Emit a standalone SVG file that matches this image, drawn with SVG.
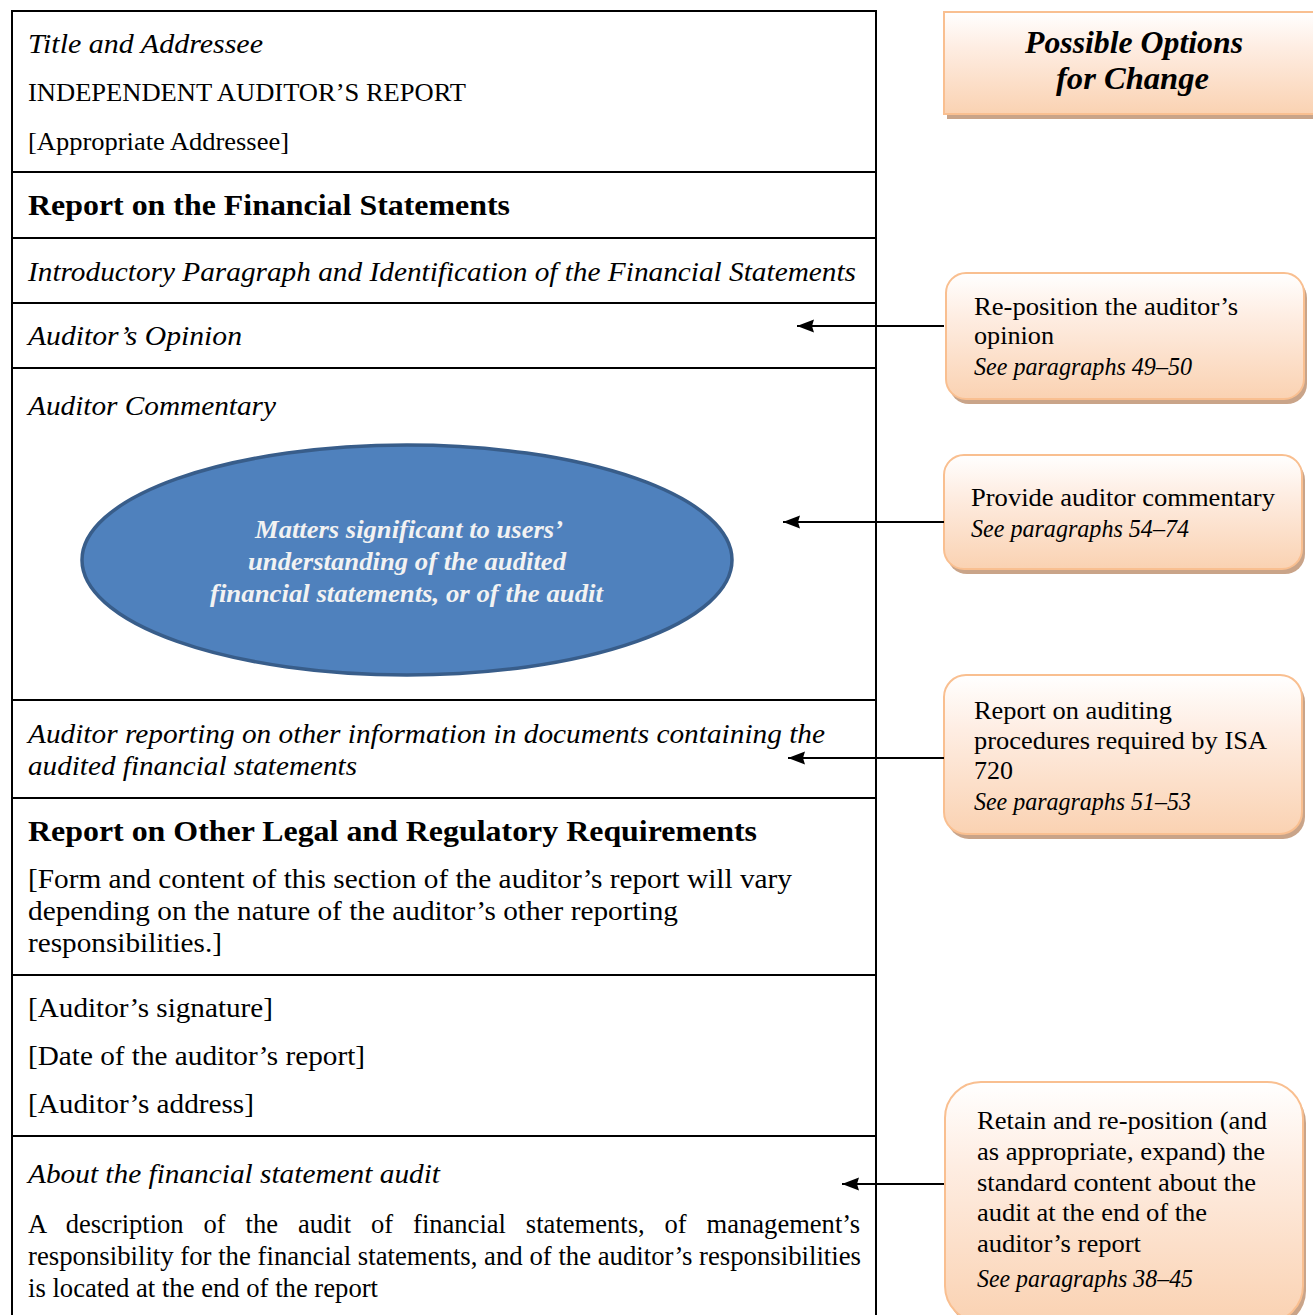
<svg xmlns="http://www.w3.org/2000/svg" width="1313" height="1315" viewBox="0 0 1313 1315">
<defs>
<linearGradient id="peach" x1="0" y1="0" x2="0" y2="1">
<stop offset="0" stop-color="#FFFFFF"/>
<stop offset="0.35" stop-color="#FEEDE2"/>
<stop offset="1" stop-color="#FAD2B2"/>
</linearGradient>
<marker id="arrow" markerUnits="userSpaceOnUse" markerWidth="18" markerHeight="14" viewBox="0 0 18 14" refX="17" refY="7" orient="auto">
<path d="M0,0.5 L17,7 L0,13.5 L2,7 z" fill="#000"/>
</marker>
<style>
.t{font-family:"Liberation Serif","Times New Roman",serif;fill:#000;}
.i{font-style:italic;}
.b{font-weight:bold;}
.m{font-size:28px;}
.s{font-size:26px;}
.h{font-size:30px;font-weight:bold;}
.c{font-size:26px;}
.frame{fill:none;stroke:#000;stroke-width:2;}
.div{stroke:#000;stroke-width:2;}
.box{fill:url(#peach);stroke:#F9BF90;stroke-width:2;}
.shadow{fill:#C9A489;}
.conn{stroke:#000;stroke-width:2;fill:none;marker-end:url(#arrow);}
.ell{font-family:"Liberation Serif","Times New Roman",serif;font-style:italic;font-weight:bold;font-size:26px;fill:#F2F2F2;}
</style>
</defs>
<rect width="1313" height="1315" fill="#FFFFFF"/>

<g id="report-frame">
<rect class="frame" x="12" y="11" width="864" height="1320"/>
<line class="div" x1="12" y1="172" x2="876" y2="172"/>
<line class="div" x1="12" y1="238" x2="876" y2="238"/>
<line class="div" x1="12" y1="303" x2="876" y2="303"/>
<line class="div" x1="12" y1="368" x2="876" y2="368"/>
<line class="div" x1="12" y1="700" x2="876" y2="700"/>
<line class="div" x1="12" y1="798" x2="876" y2="798"/>
<line class="div" x1="12" y1="975" x2="876" y2="975"/>
<line class="div" x1="12" y1="1136" x2="876" y2="1136"/>
</g>

<g id="title-addressee">
<text class="t i m" x="28" y="53" textLength="235" lengthAdjust="spacingAndGlyphs">Title and Addressee</text>
<text class="t s" x="28" y="101" textLength="438" lengthAdjust="spacingAndGlyphs">INDEPENDENT AUDITOR’S REPORT</text>
<text class="t s" x="28" y="150" textLength="261" lengthAdjust="spacingAndGlyphs">[Appropriate Addressee]</text>
</g>

<g id="report-fs">
<text class="t h" x="28" y="215" textLength="482" lengthAdjust="spacingAndGlyphs">Report on the Financial Statements</text>
</g>

<g id="intro-paragraph">
<text class="t i m" x="28" y="281" textLength="828" lengthAdjust="spacingAndGlyphs">Introductory Paragraph and Identification of the Financial Statements</text>
</g>

<g id="auditor-opinion">
<text class="t i m" x="28" y="345" textLength="214" lengthAdjust="spacingAndGlyphs">Auditor’s Opinion</text>
</g>

<g id="auditor-commentary">
<text class="t i m" x="28" y="415" textLength="248" lengthAdjust="spacingAndGlyphs">Auditor Commentary</text>
</g>

<g id="matters-ellipse">
<ellipse cx="407" cy="560" rx="325" ry="115" fill="#4F81BD" stroke="#385D8A" stroke-width="3.5"/>
<text class="ell" x="255" y="538" textLength="308" lengthAdjust="spacingAndGlyphs">Matters significant to users’</text>
<text class="ell" x="248" y="570" textLength="318" lengthAdjust="spacingAndGlyphs">understanding of the audited</text>
<text class="ell" x="210" y="602" textLength="393" lengthAdjust="spacingAndGlyphs">financial statements, or of the audit</text>
</g>

<g id="other-information">
<text class="t i m" x="28" y="743" textLength="797" lengthAdjust="spacingAndGlyphs">Auditor reporting on other information in documents containing the</text>
<text class="t i m" x="28" y="775" textLength="329" lengthAdjust="spacingAndGlyphs">audited financial statements</text>
</g>

<g id="other-legal">
<text class="t h" x="28" y="841" textLength="729" lengthAdjust="spacingAndGlyphs">Report on Other Legal and Regulatory Requirements</text>
<text class="t m" x="28" y="888" textLength="764" lengthAdjust="spacingAndGlyphs">[Form and content of this section of the auditor’s report will vary</text>
<text class="t m" x="28" y="920" textLength="650" lengthAdjust="spacingAndGlyphs">depending on the nature of the auditor’s other reporting</text>
<text class="t m" x="28" y="952" textLength="194" lengthAdjust="spacingAndGlyphs">responsibilities.]</text>
</g>

<g id="signature-block">
<text class="t m" x="28" y="1017" textLength="245" lengthAdjust="spacingAndGlyphs">[Auditor’s signature]</text>
<text class="t m" x="28" y="1065" textLength="337" lengthAdjust="spacingAndGlyphs">[Date of the auditor’s report]</text>
<text class="t m" x="28" y="1113" textLength="226" lengthAdjust="spacingAndGlyphs">[Auditor’s address]</text>
</g>

<g id="about-audit">
<text class="t i m" x="28" y="1183" textLength="412" lengthAdjust="spacingAndGlyphs">About the financial statement audit</text>
<text class="t m" x="28" y="1233" word-spacing="14" textLength="832" lengthAdjust="spacingAndGlyphs">A description of the audit of financial statements, of management’s</text>
<text class="t m" x="28" y="1265" textLength="833" lengthAdjust="spacingAndGlyphs">responsibility for the financial statements, and of the auditor’s responsibilities</text>
<text class="t m" x="28" y="1297" textLength="350" lengthAdjust="spacingAndGlyphs">is located at the end of the report</text>
</g>

<g id="options-header">
<rect class="shadow" x="947" y="17" width="380" height="102"/>
<rect class="box" x="944" y="12" width="380" height="102"/>
<text class="t i b" font-size="31" x="1025" y="53" textLength="218" lengthAdjust="spacingAndGlyphs">Possible Options</text>
<text class="t i b" font-size="31" x="1056" y="89" textLength="153" lengthAdjust="spacingAndGlyphs">for Change</text>
</g>

<g id="option-opinion">
<rect class="shadow" x="949" y="278" width="358" height="126" rx="20"/>
<rect class="box" x="946" y="273" width="358" height="126" rx="20"/>
<text class="t c" x="974" y="315" textLength="264" lengthAdjust="spacingAndGlyphs">Re-position the auditor’s</text>
<text class="t c" x="974" y="344" textLength="80" lengthAdjust="spacingAndGlyphs">opinion</text>
<text class="t c i" x="974" y="375" textLength="218" lengthAdjust="spacingAndGlyphs">See paragraphs 49–50</text>
</g>

<g id="option-commentary">
<rect class="shadow" x="947" y="460" width="358" height="114" rx="20"/>
<rect class="box" x="944" y="455" width="358" height="114" rx="20"/>
<text class="t c" x="971" y="506" textLength="304" lengthAdjust="spacingAndGlyphs">Provide auditor commentary</text>
<text class="t c i" x="971" y="537" textLength="218" lengthAdjust="spacingAndGlyphs">See paragraphs 54–74</text>
</g>

<g id="option-isa720">
<rect class="shadow" x="947" y="680" width="358" height="159" rx="22"/>
<rect class="box" x="944" y="675" width="358" height="159" rx="22"/>
<text class="t c" x="974" y="719" textLength="198" lengthAdjust="spacingAndGlyphs">Report on auditing</text>
<text class="t c" x="974" y="749" textLength="293" lengthAdjust="spacingAndGlyphs">procedures required by ISA</text>
<text class="t c" x="974" y="779" textLength="39" lengthAdjust="spacingAndGlyphs">720</text>
<text class="t c i" x="974" y="810" textLength="217" lengthAdjust="spacingAndGlyphs">See paragraphs 51–53</text>
</g>

<g id="option-about-audit">
<rect class="shadow" x="948" y="1087" width="358" height="240" rx="36"/>
<rect class="box" x="945" y="1082" width="358" height="240" rx="36"/>
<text class="t c" x="977" y="1129" textLength="290" lengthAdjust="spacingAndGlyphs">Retain and re-position (and</text>
<text class="t c" x="977" y="1160" textLength="288" lengthAdjust="spacingAndGlyphs">as appropriate, expand) the</text>
<text class="t c" x="977" y="1191" textLength="279" lengthAdjust="spacingAndGlyphs">standard content about the</text>
<text class="t c" x="977" y="1221" textLength="230" lengthAdjust="spacingAndGlyphs">audit at the end of the</text>
<text class="t c" x="977" y="1252" textLength="164" lengthAdjust="spacingAndGlyphs">auditor’s report</text>
<text class="t c i" x="977" y="1287" textLength="216" lengthAdjust="spacingAndGlyphs">See paragraphs 38–45</text>
</g>

<g id="connectors">
<line class="conn" x1="944" y1="326" x2="797" y2="326"/>
<line class="conn" x1="944" y1="522" x2="783" y2="522"/>
<line class="conn" x1="944" y1="758" x2="788" y2="758"/>
<line class="conn" x1="944" y1="1184" x2="842" y2="1184"/>
</g>
</svg>
